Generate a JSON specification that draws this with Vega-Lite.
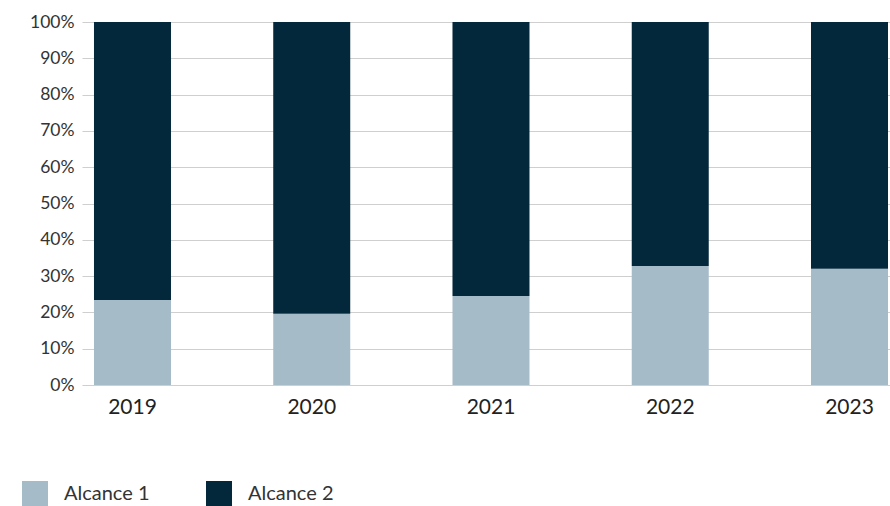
{
  "$schema": "https://vega.github.io/schema/vega-lite/v6.json",
  "width": 808,
  "height": 363,
  "autosize": {"type": "none"},
  "padding": {"left": 82, "top": 22, "right": 0, "bottom": 121},
  "config": {
    "font": "Lato",
    "view": {"stroke": null},
    "axis": {"labelColor": "#333333", "labelFont": "Lato"},
    "legend": {"labelFont": "Lato"}
  },
  "data": {
    "values": [
      {"year": "2019", "scope": "Alcance 1", "value": 23.4},
      {"year": "2019", "scope": "Alcance 2", "value": 76.6},
      {"year": "2020", "scope": "Alcance 1", "value": 19.6},
      {"year": "2020", "scope": "Alcance 2", "value": 80.4},
      {"year": "2021", "scope": "Alcance 1", "value": 24.5},
      {"year": "2021", "scope": "Alcance 2", "value": 75.5},
      {"year": "2022", "scope": "Alcance 1", "value": 32.8},
      {"year": "2022", "scope": "Alcance 2", "value": 67.2},
      {"year": "2023", "scope": "Alcance 1", "value": 32.0},
      {"year": "2023", "scope": "Alcance 2", "value": 68.0}
    ]
  },
  "mark": {"type": "bar"},
  "encoding": {
    "x": {
      "field": "year",
      "type": "ordinal",
      "scale": {"paddingInner": 0.5704, "paddingOuter": 0.039, "align": 0.857},
      "axis": {
        "title": null,
        "labelAngle": 0,
        "ticks": false,
        "domain": false,
        "labelFontSize": 21,
        "labelPadding": 11,
        "labelColor": "#222222"
      }
    },
    "y": {
      "field": "value",
      "type": "quantitative",
      "stack": "zero",
      "scale": {"domain": [0, 100], "nice": false},
      "axis": {
        "title": null,
        "values": [0, 10, 20, 30, 40, 50, 60, 70, 80, 90, 100],
        "labelExpr": "datum.value + '%'",
        "ticks": false,
        "domain": false,
        "gridColor": "#cfcfcf",
        "gridWidth": 1,
        "labelFontSize": 17.5,
        "labelPadding": 8,
        "labelColor": "#333333"
      }
    },
    "order": {"field": "scope", "type": "nominal", "sort": "ascending"},
    "color": {
      "field": "scope",
      "type": "nominal",
      "scale": {"domain": ["Alcance 1", "Alcance 2"], "range": ["#a5bbc8", "#03283c"]},
      "legend": {
        "title": null,
        "orient": "none",
        "direction": "horizontal",
        "legendX": -60,
        "legendY": 459,
        "symbolType": "square",
        "symbolSize": 676,
        "symbolStrokeWidth": 0,
        "symbolOpacity": 1,
        "labelFontSize": 20,
        "labelColor": "#333333",
        "labelOffset": 16,
        "columnPadding": 56
      }
    }
  }
}
